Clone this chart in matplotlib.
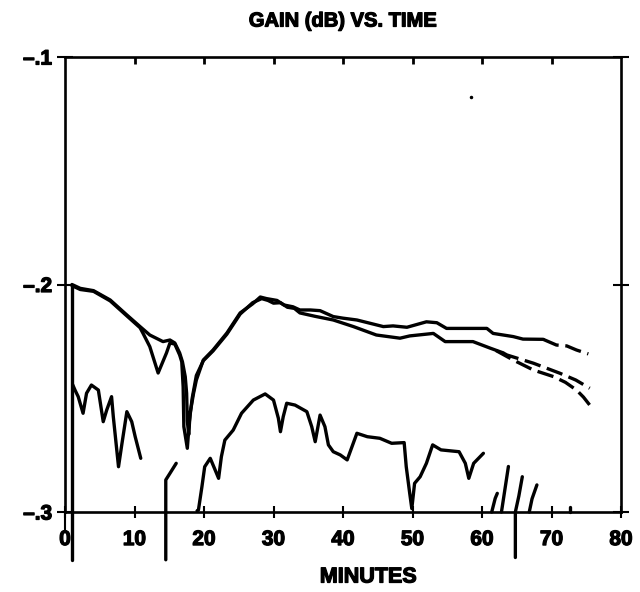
import matplotlib
matplotlib.use("Agg")
import matplotlib.pyplot as plt
import matplotlib.patheffects as pe

plt.rcParams['font.family'] = ['Liberation Sans', 'DejaVu Sans']
plt.rcParams['font.weight'] = 'bold'

# ---------------- data ----------------
x_ticks = [0, 10, 20, 30, 40, 50, 60, 70, 80]
x_tick_labels = ['0', '10', '20', '30', '40', '50', '60', '70', '80']
y_ticks = [-0.3, -0.2, -0.1]
y_tick_labels = ['\u2013.3', '\u2013.2', '\u2013.1']

# upper trace A (solid part)
a_x = [1.0, 2.2, 4.1, 6.5, 8.9, 10.8, 12.2, 14.1, 15.1, 15.8, 16.5, 16.9, 17.3, 17.5, 17.6,
       17.8, 18.0, 18.5, 18.9, 19.9, 21.3, 23.3, 25.2, 27.0, 28.1, 29.0, 30.5, 31.5, 32.8,
       33.8, 35.3, 36.7, 38.6, 40.0, 42.0, 45.8, 47.2, 49.2, 52.0, 53.5, 54.9, 60.7, 61.6,
       64.5, 65.9, 68.8]
a_y = [-0.2000, -0.2017, -0.2027, -0.2068, -0.2134, -0.2185, -0.2222, -0.2251, -0.2244,
       -0.2257, -0.2301, -0.2340, -0.2405, -0.2478, -0.2600, -0.2660, -0.2566, -0.2478,
       -0.2420, -0.2332, -0.2288, -0.2213, -0.2125, -0.2085, -0.2055, -0.2062, -0.2070,
       -0.2090, -0.2098, -0.2112, -0.2112, -0.2115, -0.2141, -0.2148, -0.2156, -0.2185,
       -0.2182, -0.2188, -0.2164, -0.2168, -0.2193, -0.2193, -0.2215, -0.2229, -0.2240,
       -0.2241]
# upper trace A (dashed tail)
a2_x = [68.8, 70.7, 72.2, 73.6, 75.3]
a2_y = [-0.2241, -0.2266, -0.2270, -0.2288, -0.2305]

# middle trace B (solid part)
b_x = [1.0, 2.2, 4.1, 6.5, 8.9, 10.8, 11.2, 12.2, 13.4, 14.6, 15.1, 15.8, 16.5, 16.8, 17.0,
       17.1, 17.6, 17.9, 18.3, 18.9, 19.9, 21.3, 23.3, 25.2, 27.0, 28.3, 29.2, 30.0, 31.0,
       32.0, 33.0, 33.8, 36.0, 38.6, 41.5, 44.8, 48.2, 49.6, 53.0, 54.7, 58.7, 61.2, 63.0]
b_y = [-0.2005, -0.2022, -0.2030, -0.2072, -0.2138, -0.2190, -0.2213, -0.2273, -0.2389,
       -0.2301, -0.2257, -0.2262, -0.2310, -0.2340, -0.2450, -0.2625, -0.2720, -0.2600,
       -0.2500, -0.2400, -0.2335, -0.2292, -0.2218, -0.2130, -0.2080, -0.2062, -0.2070,
       -0.2082, -0.2080, -0.2100, -0.2105, -0.2125, -0.2140, -0.2156, -0.2185, -0.2222,
       -0.2236, -0.2226, -0.2215, -0.2251, -0.2251, -0.2280, -0.2300]
# middle trace B (dashed tail)
b2_x = [63.0, 63.6, 67.4, 71.2, 73.5, 75.5]
b2_y = [-0.2300, -0.2310, -0.2346, -0.2390, -0.2420, -0.2456]

# lowest upper trace C (dashed, branches from B)
c_x = [62.0, 64.5, 67.4, 70.3, 72.0, 73.6, 74.6, 75.5]
c_y = [-0.2290, -0.2332, -0.2376, -0.2405, -0.2430, -0.2464, -0.2495, -0.2530]

# start riser at x ~ 1
riser_x = [1.0, 1.0]
riser_y = [-0.321, -0.200]

# lower-left noisy trace D
d_x = [1.1, 1.44, 1.9, 2.6, 3.1, 3.8, 4.8, 5.5, 6.0, 6.7, 6.95, 7.7, 8.2, 8.9, 9.6, 10.1, 10.9]
d_y = [-0.2440, -0.2464, -0.2493, -0.2566, -0.2478, -0.2442, -0.2464, -0.2603, -0.2552,
       -0.2493, -0.2581, -0.2801, -0.2698, -0.2559, -0.2603, -0.2669, -0.2764]

# piece at x ~ 14.5
f_x = [14.5, 14.5, 15.1, 16.0]
f_y = [-0.321, -0.2859, -0.2830, -0.2786]

# lower noisy trace E
e_x = [19.0, 19.2, 19.7, 20.1, 20.9, 21.6, 22.1, 22.5, 23.0, 24.2, 25.4, 27.1, 28.8, 30.0,
       30.7, 31.0, 31.4, 31.9, 33.1, 34.8, 35.5, 36.0, 36.7, 37.4, 37.9, 38.6, 39.6, 40.6,
       42.0, 43.5, 45.3, 47.0, 48.8, 49.1, 49.6, 49.9, 50.3, 51.1, 52.0, 52.9, 54.1, 56.7,
       57.6, 58.1, 58.8, 60.2]
e_y = [-0.2995, -0.2991, -0.2889, -0.2801, -0.2764, -0.2815, -0.2852, -0.2757, -0.2684,
       -0.2640, -0.2566, -0.2508, -0.2481, -0.2508, -0.2588, -0.2647, -0.2581, -0.2522,
       -0.2530, -0.2559, -0.2625, -0.2691, -0.2574, -0.2625, -0.2705, -0.2735, -0.2749,
       -0.2771, -0.2654, -0.2669, -0.2676, -0.2698, -0.2695, -0.2801, -0.2918, -0.2985,
       -0.2874, -0.2845, -0.2786, -0.2705, -0.2727, -0.2735, -0.2786, -0.2852, -0.2786,
       -0.2742]

# short strokes near the right end
g1_x = [61.4, 61.9, 62.2]
g1_y = [-0.3000, -0.2940, -0.2918]
g2_x = [62.8, 63.2, 63.8]
g2_y = [-0.3000, -0.2920, -0.2800]
g3_x = [64.8, 64.8, 65.3, 65.8]
g3_y = [-0.3200, -0.3000, -0.2930, -0.2845]
g4_x = [66.8, 67.2, 67.9]
g4_y = [-0.3000, -0.2942, -0.2881]
g5_x = [72.6, 72.6]
g5_y = [-0.3000, -0.2980]

# ---------------- figure ----------------
fig = plt.figure(figsize=(6.4, 5.92), dpi=100)
ax = fig.add_axes([65 / 640, 80 / 592, 556 / 640, 455 / 592])

lw = 2.4
kw = dict(color='black', lw=lw, solid_capstyle='round', solid_joinstyle='round', clip_on=False)
dkw = dict(color='black', lw=lw, linestyle=(0, (5, 2)), clip_on=False)

ax.plot(riser_x, riser_y, **kw)
ax.plot(a_x, a_y, **kw)
ax.plot(a2_x, a2_y, **dkw)
ax.plot(b_x, b_y, **kw)
ax.plot(b2_x, b2_y, **dkw)
ax.plot(c_x, c_y, **dkw)
ax.plot(d_x, d_y, **kw)
ax.plot(f_x, f_y, **kw)
ax.plot(e_x, e_y, **kw)
for gx, gy in [(g1_x, g1_y), (g2_x, g2_y), (g3_x, g3_y), (g4_x, g4_y), (g5_x, g5_y)]:
    ax.plot(gx, gy, **kw)
ax.plot([0, 0], [-0.3, -0.308], color='black', lw=1.5, clip_on=False)
ax.plot([58.4], [-0.1178], 'o', color='black', ms=1.5)

ax.set_xlim(0, 80)
ax.set_ylim(-0.3, -0.1)
ax.set_xticks(x_ticks)
ax.set_xticklabels(x_tick_labels)
ax.set_yticks(y_ticks)
ax.set_yticklabels(y_tick_labels)

for s in ax.spines.values():
    s.set_linewidth(1.9)

heavy = [pe.withStroke(linewidth=0.9, foreground='black')]

ax.tick_params(axis='x', direction='inout', length=8, width=1.5, pad=9, labelsize=15)
ax.tick_params(axis='y', direction='inout', length=11.5, width=1.5, pad=3.5, labelsize=15,
               right=True)
for t in ax.get_xticklabels() + ax.get_yticklabels():
    t.set_path_effects(heavy)

# inward ticks along the top frame
tr = ax.get_xaxis_transform()
for xt in x_ticks[1:-1]:
    ax.plot([xt, xt], [1.0, 1.0 - 7 / 455], transform=tr, color='black', lw=2.0,
            solid_capstyle='butt', clip_on=False)

fig.text(343 / 640, 1 - 21 / 592, 'GAIN (dB) VS. TIME', ha='center', va='center',
         fontsize=14.5, fontweight='bold', path_effects=heavy)
fig.text(368 / 640, 15 / 592, 'MINUTES', ha='center', va='center',
         fontsize=15.5, fontweight='bold', path_effects=heavy)

fig.savefig('out.png', dpi=100)
